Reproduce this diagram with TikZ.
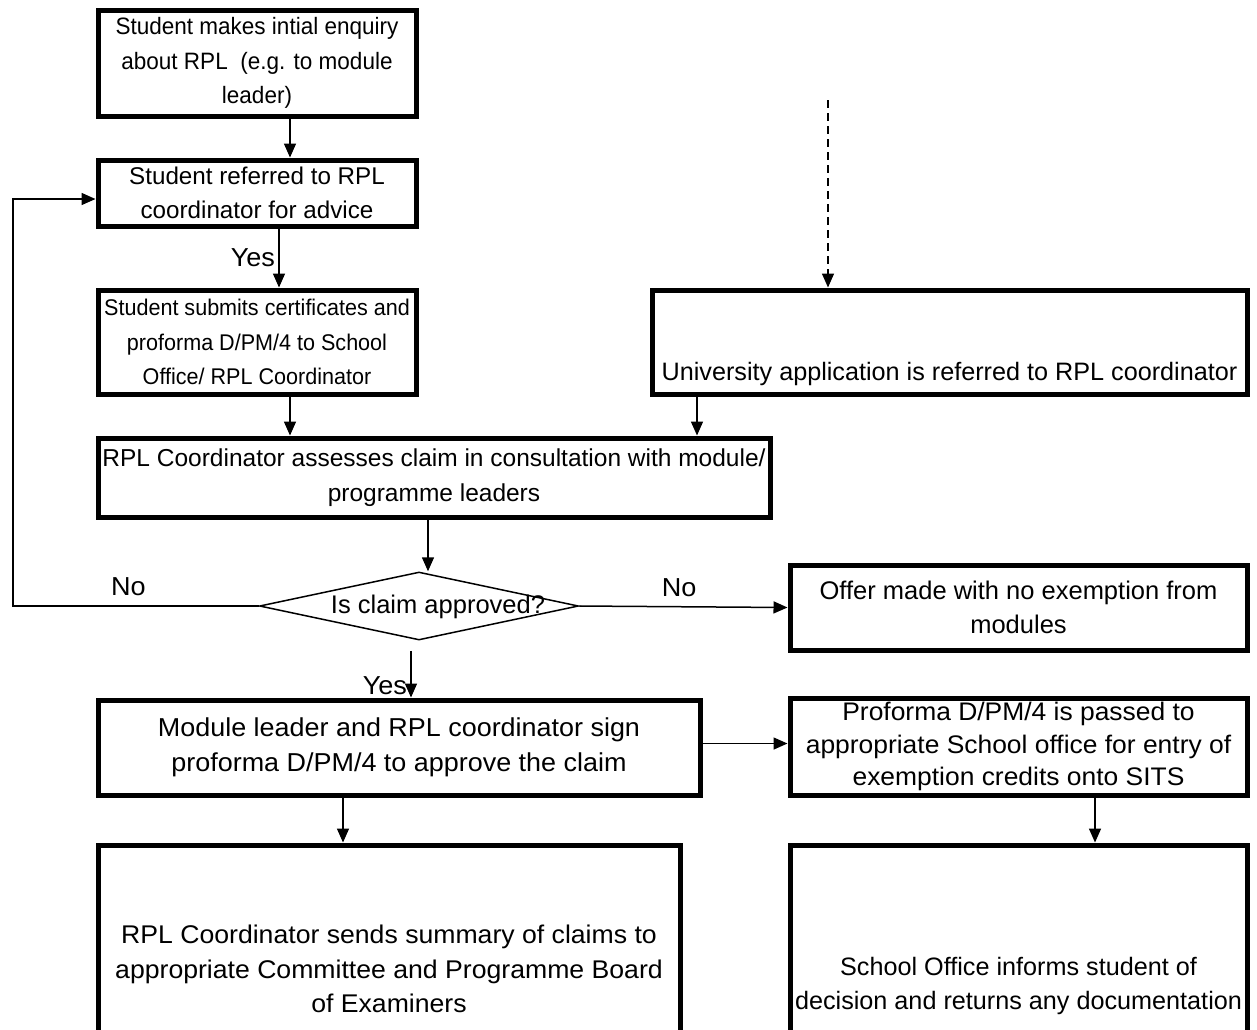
\documentclass[tikz,border=0pt]{standalone}
\usepackage{fontspec}
\setmainfont{Liberation Sans}
\newfontfamily\narrowsans[FakeStretch=0.95]{Liberation Sans}
\newfontfamily\widesans[FakeStretch=1.04]{Liberation Sans}
\usetikzlibrary{arrows.meta,positioning,shapes.geometric,calc}

\tikzset{
  procbox/.style={draw, line width=5pt, align=center, inner sep=0pt},
  fsz/.style={font=\fontsize{#1}{34.5}\selectfont},
  nsz/.style={font=\narrowsans\fontsize{#1}{34.5}\selectfont},
  wsz/.style={font=\widesans\fontsize{#1}{34.5}\selectfont},
  flowline/.style={line width=1.5pt, -{Triangle[length=14pt,width=12pt]}},
}

\begin{document}
\begin{tikzpicture}[x=1pt, y=-1pt, every node/.style={wsz=26}]
  \useasboundingbox (0,0) rectangle (1257,1029);
  \clip (0,0) rectangle (1257,1029);
  % Left column
  \node[procbox, nsz=23.7, minimum width=318pt, minimum height=106pt] (enquiry) at (257,63)
    {Student makes intial enquiry\\about RPL\ \ (e.g. to module\\leader)};
  \node[procbox, fsz=24.2, minimum width=318pt, minimum height=66pt] (referred) at (257,193)
    {Student referred to RPL\\coordinator for advice};
  \node[procbox, nsz=22.7, minimum width=318pt, minimum height=104pt] (submit) at (257,342)
    {Student submits certificates and\\proforma D/PM/4 to School\\Office/ RPL Coordinator};
  % University route
  \node[procbox, minimum width=595pt, minimum height=104pt] (univ) at (949.5,342) {};
  \node[fsz=25.2] (univtxt) at (949.5,374) {University application is referred to RPL coordinator};
  \coordinate (dashtop) at (828,100);
  % Assessment and decision
  \node[procbox, fsz=24.5, minimum width=672pt, minimum height=79pt] (assess) at (434,477.5)
    {RPL Coordinator assesses claim in consultation with module/\\programme leaders};
  \node[draw, diamond, line width=1.5pt, inner sep=0pt,
        minimum width=319pt, minimum height=68pt] (approved) at (419,606) {};
  \node[fsz=25.5] (approvedtxt) at (438,607) {Is claim approved?};
  \coordinate (loopbend) at (13,606);
  \node[procbox, fsz=25.5, minimum width=457pt, minimum height=85pt] (offer) at (1018.5,607.5)
    {Offer made with no exemption from\\modules};
  % Approved claim
  \node[procbox, wsz=25.9, minimum width=602pt, minimum height=95pt] (sign) at (399,747.5)
    {Module leader and RPL coordinator sign\\proforma D/PM/4 to approve the claim};
  \node[procbox, font=\widesans\fontsize{25.4}{32.5}\selectfont, minimum width=457pt,
        minimum height=97pt] (passed) at (1018.5,746.5)
    {Proforma D/PM/4 is passed to\\appropriate School office for entry of\\exemption credits onto SITS};
  \node[procbox, wsz=25.6, minimum width=582pt, minimum height=248pt] (summary) at (389,969)
    {RPL Coordinator sends summary of claims to\\appropriate Committee and Programme Board\\of Examiners};
  \node[procbox, fsz=25.2, minimum width=457pt, minimum height=282pt] (inform) at (1018.5,986)
    {School Office informs student of\\decision and returns any documentation};

  % Connectors
  \draw[flowline] ([xshift=33pt]enquiry.south) -- ([xshift=33pt]referred.north);
  \draw[flowline] ([xshift=22pt]referred.south) -- node[left, pos=0.5] {Yes} ([xshift=22pt]submit.north);
  \draw[flowline] ([xshift=33pt]submit.south) -- ([xshift=33pt]submit.south |- assess.north);
  \draw[flowline, dash pattern=on 8pt off 5pt] (dashtop) -- (dashtop |- univ.north);
  \draw[flowline] ([xshift=-252.5pt]univ.south) -- ([xshift=-252.5pt]univ.south |- assess.north);
  \draw[flowline] ([xshift=-6pt]assess.south) -- ([xshift=-6pt]assess.south |- approved.north);
  \draw[flowline] (approved.west) -- node[pos=0.53, above=6pt] {No} (loopbend)
    |- ([yshift=-6pt]referred.west);
  \draw[flowline] (approved.east) -- node[pos=0.48, above=6pt] {No} (offer.west);
  \draw[flowline] ([xshift=-8pt, yshift=-10pt]approved.south)
    -- node[left, pos=0.75] {Yes} ([xshift=-8pt]approved.south |- sign.north);
  \draw[flowline] ([yshift=4pt]sign.east) -- ([yshift=4pt]sign.east -| passed.west);
  \draw[flowline] ([xshift=-56pt]sign.south) -- ([xshift=-56pt]sign.south |- summary.north);
  \draw[flowline] ([xshift=76.5pt]passed.south) -- ([xshift=76.5pt]passed.south |- inform.north);
\end{tikzpicture}
\end{document}
